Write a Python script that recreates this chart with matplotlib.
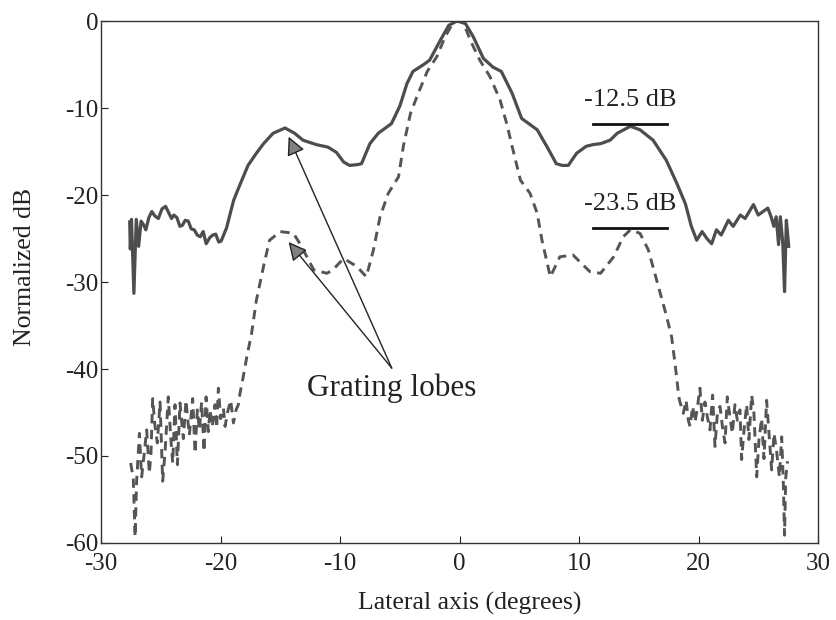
import numpy as np
import matplotlib
matplotlib.use('Agg')
import matplotlib.pyplot as plt

# --- data ---
# solid curve (no grating-lobe suppression)
solid_x = [-27.6, -27.55, -27.45, -27.25, -27.05, -26.85, -26.65, -26.45, -26.25, -26.0,
           -25.75, -25.5, -25.2, -24.9, -24.6, -24.35, -24.1, -23.9, -23.65, -23.4,
           -23.2, -22.95, -22.7, -22.45, -22.2, -21.95, -21.7, -21.45, -21.2, -20.9,
           -20.65, -20.4, -20.15, -19.95, -19.5, -18.9, -18.4, -17.7, -17.0, -16.4,
           -15.6, -14.6, -13.8, -13.1, -12.0, -11.0, -10.3, -9.7, -9.2, -8.5,
           -8.2, -7.5, -6.8, -5.7, -5.0, -4.4, -3.9, -3.0, -2.5, -1.6,
           -0.9, -0.2, 0.5, 1.15, 2.0, 2.8, 3.5, 4.4, 5.2, 6.5,
           7.3, 8.1, 8.6, 9.1, 9.8, 10.6, 11.2, 11.8, 12.6, 13.2,
           14.3, 15.1, 16.2, 17.3, 18.2, 18.9, 19.4, 19.85, 20.3, 20.7,
           21.1, 21.5, 21.9, 22.5, 22.9, 23.5, 23.9, 24.6, 25.0, 25.4,
           25.8, 26.1, 26.3, 26.5, 26.7, 26.85, 27.05, 27.2, 27.35, 27.55]
solid_y = [-23.1, -26.2, -22.8, -31.3, -22.8, -25.9, -23.0, -23.4, -24.0, -22.6,
           -21.9, -22.4, -22.7, -21.6, -21.3, -22.0, -22.7, -22.3, -22.6, -23.6,
           -23.5, -22.9, -23.0, -23.9, -24.0, -24.6, -24.8, -24.2, -25.6, -24.9,
           -24.6, -24.5, -25.4, -25.3, -23.8, -20.6, -18.9, -16.6, -15.2, -14.1,
           -12.9, -12.3, -12.9, -13.7, -14.2, -14.5, -15.1, -16.2, -16.6, -16.5,
           -16.4, -14.1, -12.9, -11.8, -9.8, -7.2, -5.8, -5.0, -4.5, -2.2,
           -0.5, 0.0, -0.3, -1.8, -4.3, -5.3, -5.8, -8.3, -11.2, -12.5,
           -14.4, -16.4, -16.6, -16.6, -15.2, -14.4, -14.2, -14.1, -13.7, -12.9,
           -12.1, -12.5, -13.7, -16.0, -18.7, -21.0, -23.6, -25.2, -24.2, -25.0,
           -25.6, -24.0, -24.6, -22.9, -23.6, -22.3, -22.7, -21.1, -22.3, -21.9,
           -21.5, -22.6, -23.6, -22.5, -25.7, -22.5, -25.5, -31.1, -22.9, -25.9]

# dashed curve (with suppression)
dash_x = [-27.52, -27.30, -27.15, -27.02, -26.79, -26.60, -26.40, -26.18, -25.96, -25.82,
          -25.68, -25.48, -25.29, -25.06, -24.84, -24.64, -24.37, -24.17, -24.00, -23.81,
          -23.61, -23.39, -23.25, -23.11, -22.89, -22.75, -22.61, -22.33, -22.13, -21.94,
          -21.77, -21.58, -21.38, -21.21, -21.02, -20.88, -20.69, -20.46, -20.32, -20.18,
          -19.99, -19.76, -19.62, -19.40, -19.15, -18.92, -18.70, -18.51, -18.37,
          -18.1, -17.8, -17.4, -17.0, -16.4, -15.9, -15.0, -13.9, -13.35, -12.2,
          -11.1, -10.6, -9.7, -8.6, -7.8, -7.2, -6.65, -5.96, -5.1, -4.7,
          -4.1, -3.45, -2.7, -1.9, -1.2, -0.5, 0.0, 0.3, 0.9, 1.7,
          2.55, 3.4, 3.95, 4.4, 5.1, 5.9, 6.5, 6.9, 7.6, 8.4,
          9.5, 10.9, 11.8, 12.9, 13.7, 14.3, 15.1, 15.8, 16.5, 17.3,
          17.75, 18.0, 18.2, 18.35,
          18.45, 18.73, 18.96, 19.15, 19.29, 19.51, 19.71, 19.90, 20.12, 20.32,
          20.54, 20.74, 20.96, 21.18, 21.38, 21.58, 21.80, 22.00, 22.22, 22.41,
          22.63, 22.83, 23.05, 23.25, 23.47, 23.61, 23.81, 24.03, 24.22, 24.45,
          24.64, 24.87, 25.06, 25.28, 25.48, 25.70, 25.90, 26.12, 26.32, 26.54,
          26.77, 26.96, 27.10, 27.20, 27.30, 27.45]
dash_y = [-50.8, -52.6, -59.3, -52.9, -47.4, -52.4, -49.9, -47.0, -52.0, -49.7,
          -43.4, -46.6, -48.5, -43.8, -52.9, -49.5, -43.2, -47.8, -50.8, -44.1,
          -51.0, -43.9, -46.1, -48.0, -43.6, -45.7, -47.6, -43.4, -49.7, -44.7,
          -47.0, -43.8, -49.5, -43.2, -47.2, -44.7, -46.6, -44.1, -46.8, -42.2,
          -45.7, -44.5, -46.6, -44.9, -43.6, -46.2, -44.7, -44.1, -42.8,
          -40.9, -38.6, -35.9, -32.1, -28.2, -25.2, -24.2, -24.4, -25.6, -28.6,
          -29.0, -28.6, -27.3, -28.2, -29.4, -26.3, -22.5, -19.8, -17.9, -14.4,
          -10.6, -8.3, -5.8, -4.1, -1.8, -0.1, 0.0, -0.1, -2.2, -4.5,
          -6.4, -9.1, -11.8, -14.4, -18.3, -19.8, -22.1, -25.2, -29.4, -27.1,
          -26.9, -28.8, -29.0, -27.1, -24.8, -24.0, -24.4, -26.3, -29.8, -33.8,
          -36.3, -39.0, -41.3, -43.2,
          -43.8, -45.1, -43.6, -45.9, -46.6, -44.3, -46.1, -44.5, -42.2, -45.9,
          -43.8, -45.5, -47.0, -43.0, -48.9, -45.1, -44.3, -46.6, -48.5, -43.2,
          -45.5, -47.4, -44.1, -45.9, -44.7, -50.4, -47.0, -44.1, -48.1, -43.0,
          -45.1, -52.4, -48.1, -45.7, -50.3, -43.6, -47.4, -51.6, -47.4, -49.5,
          -52.4, -47.8, -53.2, -59.1, -52.5, -50.6]

x_ticks = [-30, -20, -10, 0, 10, 20, 30]
y_ticks = [-60, -50, -40, -30, -20, -10, 0]

level_labels = ['-12.5 dB', '-23.5 dB']
level_y = [-11.85, -23.8]
level_x = [11.15, 17.35]

lobe_peaks_x = [-14.3, -14.3]
lobe_peaks_y = [-13.3, -25.4]
lobe_text_xy = (-5.67, -39.9)

plt.rcParams['font.family'] = ['Liberation Serif', 'DejaVu Serif']
plt.rcParams['axes.unicode_minus'] = False

fig = plt.figure(figsize=(8.37, 6.2), dpi=100)
ax = fig.add_axes([0.1207, 0.1242, 0.8566, 0.8419])

ax.plot(solid_x, solid_y, color='#4d4d4d', lw=2.3, solid_joinstyle='round')
ax.plot(dash_x, dash_y, color='#555555', lw=2.1, linestyle=(0, (3.2, 2.2)))

# level markers
for lab, yv in zip(level_labels, level_y):
    ax.plot(level_x, [yv, yv], color='#111111', lw=2.0)
    ax.text(np.mean(level_x), yv + 1.5, lab, ha='center', va='bottom',
            fontsize=19, color='#222222')

# grating lobe arrows
for px, py in zip(lobe_peaks_x, lobe_peaks_y):
    ax.annotate('', xy=(px, py), xytext=lobe_text_xy,
                arrowprops=dict(arrowstyle='-|>', mutation_scale=28,
                                lw=1.0, ec='#222222', fc='#808080',
                                shrinkA=0, shrinkB=0))
ax.text(lobe_text_xy[0], lobe_text_xy[1] - 0.6, 'Grating lobes', ha='center',
        va='top', fontsize=22.5, color='#222222')

ax.set_xlim(-30, 30)
ax.set_ylim(-60, 0)
ax.set_xticks(x_ticks)
ax.set_yticks(y_ticks)
ax.tick_params(axis='both', direction='in', length=5, width=0.8,
               labelsize=18, colors='#222222')
ax.tick_params(axis='x', pad=7)
ax.tick_params(axis='y', pad=2)
for sp in ax.spines.values():
    sp.set_color('#333333')
    sp.set_linewidth(1.0)

fig.text(470 / 837, 1 - 603 / 620, 'Lateral axis (degrees)', ha='center',
         va='center', fontsize=18.5, color='#222222')
fig.text(25 / 837, 1 - 267 / 620, 'Normalized dB', ha='center', va='center',
         rotation=90, fontsize=18.5, color='#222222')

fig.savefig('out.png', dpi=100)
